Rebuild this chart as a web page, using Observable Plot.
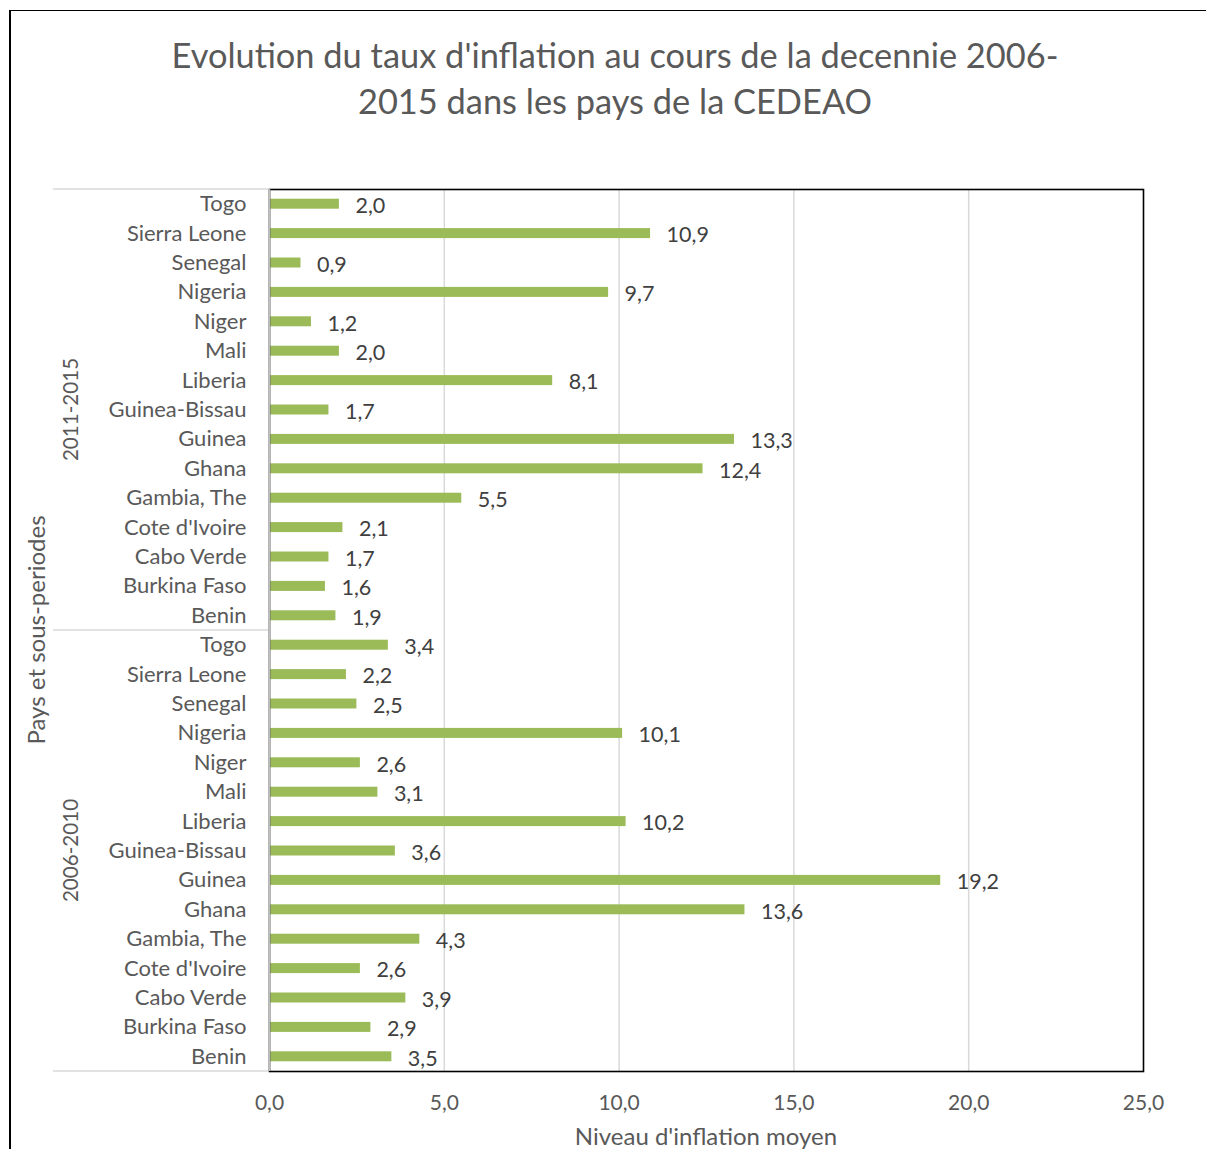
<!DOCTYPE html>
<html>
<head>
<meta charset="utf-8">
<script src="https://cdn.jsdelivr.net/npm/d3@7"></script>
<script src="https://cdn.jsdelivr.net/npm/@observablehq/plot@0.6"></script>
<style>
  html, body { margin: 0; padding: 0; background: #fff; overflow: hidden; }
  #page { position: relative; width: 1206px; height: 1149px; overflow: hidden; font-family: Lato, "Open Sans", sans-serif; }
  #border { position: absolute; left: 9px; top: 10px; width: 1300px; height: 1300px; border-left: 2px solid #000; border-top: 1.5px solid #000; box-sizing: border-box; }
  #title { position: absolute; left: 10px; width: 1210px; top: 32px; text-align: center; font-size: 34.4px; line-height: 46px; color: #595959; }
  #chart { position: absolute; left: 0; top: 150px; }
  #xlabel { position: absolute; left: 269px; width: 874px; top: 1121px; text-align: center; font-size: 24px; color: #595959; }
</style>
</head>
<body>
<div id="page">
  <div id="border"></div>
  <div id="title">Evolution du taux d'inflation au cours de la decennie 2006-<br>2015 dans les pays de la CEDEAO</div>
  <div id="chart"></div>
  <div id="xlabel">Niveau d'inflation moyen</div>
</div>
<script>
const countries = ["Togo","Sierra Leone","Senegal","Nigeria","Niger","Mali","Liberia","Guinea-Bissau","Guinea","Ghana","Gambia, The","Cote d'Ivoire","Cabo Verde","Burkina Faso","Benin"];
const periods = ["2011-2015","2006-2010"];
const values2011_2015 = [2.0,10.9,0.9,9.7,1.2,2.0,8.1,1.7,13.3,12.4,5.5,2.1,1.7,1.6,1.9];
const values2006_2010 = [3.4,2.2,2.5,10.1,2.6,3.1,10.2,3.6,19.2,13.6,4.3,2.6,3.9,2.9,3.5];
const xTicks = [0,5,10,15,20,25];
const yAxisTitle = "Pays et sous-periodes";

const seriesByPeriod = {"2011-2015": values2011_2015, "2006-2010": values2006_2010};
const data = [];
periods.forEach(p => countries.forEach((c, j) => data.push({key: p + "|" + c, period: p, country: c, value: seriesByPeriod[p][j]})));
const keys = data.map(d => d.key);
const fmt = v => v.toFixed(1).replace(".", ",");

const plot = Plot.plot({
  width: 1206,
  height: 999,
  marginTop: 39,
  marginBottom: 78,
  marginLeft: 269,
  marginRight: 63,
  style: {fontFamily: "Lato, 'Open Sans', sans-serif", fontSize: "20px", color: "#595959", background: "transparent", overflow: "visible"},
  x: {domain: [0, 25], label: null},
  y: {domain: keys, paddingInner: 0.66, paddingOuter: 0.33, round: false, label: null},
  marks: [
    Plot.gridX([5, 10, 15, 20], {stroke: "#d9d9d9", strokeOpacity: 1, strokeWidth: 1.5}),
    Plot.barX(data, {x: "value", y: "key", fill: "#9bbb59"}),
    Plot.text(data, {x: "value", y: "key", text: d => fmt(d.value), textAnchor: "start", dx: 16, dy: 2, fill: "#404040", fontSize: 21.5}),
    Plot.frame({stroke: "#000", strokeWidth: 1.6}),
    Plot.ruleX([0], {stroke: "#bfbfbf", strokeWidth: 1.5}),
    Plot.axisX({ticks: xTicks, tickFormat: fmt, tickSize: 0, tickPadding: 24, fontSize: 21, label: null}),
    Plot.axisY({tickSize: 0, tickPadding: 23, tickFormat: k => k.split("|")[1], fontSize: 22, label: null})
  ]
});
document.getElementById("chart").appendChild(plot);

// separators and rotated labels in the left margin, placed with the plot's y scale
const ys = plot.scale("y");
const half = (ys.step - ys.bandwidth) / 2;
const svg = d3.select(plot);
const g = svg.append("g");
const groupBounds = periods.map(p => {
  const ks = keys.filter(k => k.startsWith(p + "|"));
  const top = ys.apply(ks[0]) - half;
  const bottom = ys.apply(ks[ks.length - 1]) + ys.bandwidth + half;
  return {p, top, bottom};
});
const lines = [groupBounds[0].top, ...groupBounds.map(b => b.bottom)];
g.selectAll("line").data(lines).join("line")
  .attr("x1", 53).attr("x2", 268)
  .attr("y1", d => d).attr("y2", d => d)
  .attr("stroke", "#d9d9d9").attr("stroke-width", 1.5);
g.selectAll("text.grp").data(groupBounds).join("text")
  .attr("class", "grp")
  .attr("transform", d => `translate(70,${(d.top + d.bottom) / 2}) rotate(-90)`)
  .attr("text-anchor", "middle").attr("dominant-baseline", "central")
  .attr("fill", "#595959").attr("font-size", 20.6)
  .text(d => d.p);
g.append("text")
  .attr("transform", `translate(35,${(groupBounds[0].top + groupBounds[1].bottom) / 2}) rotate(-90)`)
  .attr("text-anchor", "middle").attr("dominant-baseline", "central")
  .attr("fill", "#595959").attr("font-size", 24)
  .text(yAxisTitle);
</script>
</body>
</html>
